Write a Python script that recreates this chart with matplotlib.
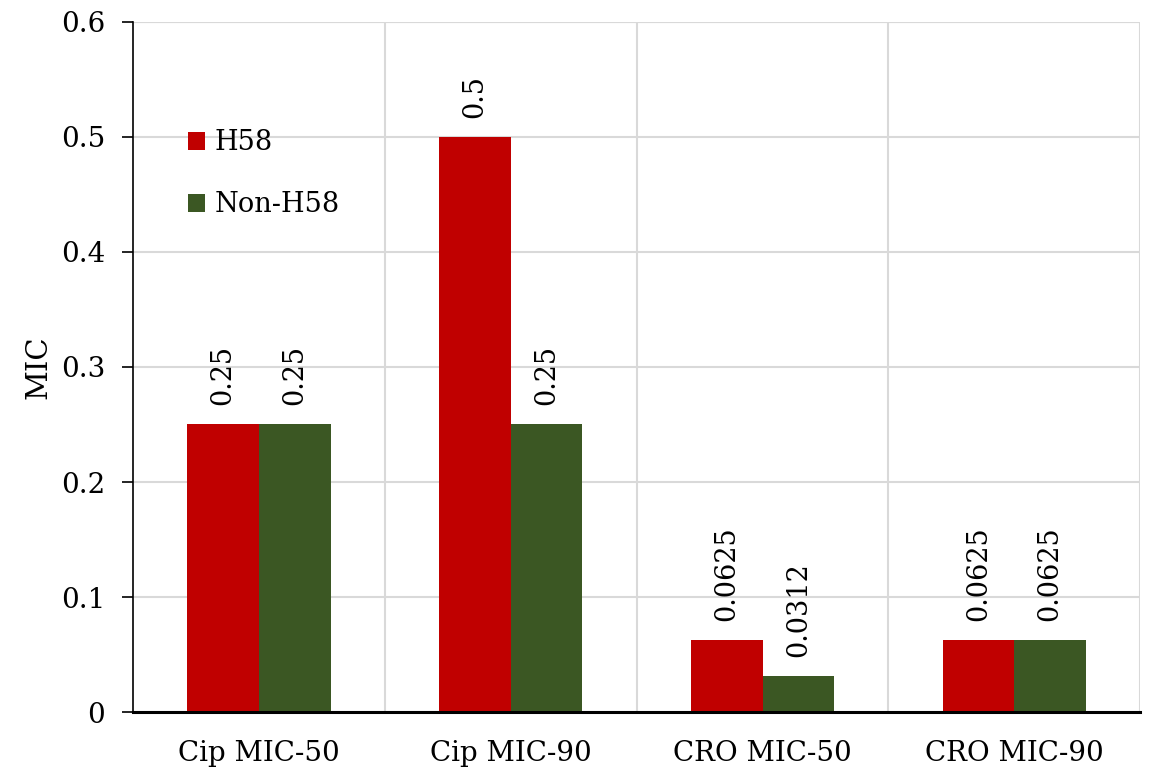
import matplotlib
matplotlib.use("Agg")
import matplotlib.pyplot as plt
import numpy as np

categories = ["Cip MIC-50", "Cip MIC-90", "CRO MIC-50", "CRO MIC-90"]
h58 = [0.25, 0.5, 0.0625, 0.0625]
non_h58 = [0.25, 0.25, 0.0312, 0.0625]
h58_labels = ["0.25", "0.5", "0.0625", "0.0625"]
non_h58_labels = ["0.25", "0.25", "0.0312", "0.0625"]
yticks = [0, 0.1, 0.2, 0.3, 0.4, 0.5, 0.6]
ytick_labels = ["0", "0.1", "0.2", "0.3", "0.4", "0.5", "0.6"]

red = "#C00000"
green = "#3B5723"
serif = ["DejaVu Serif"]

fig = plt.figure(figsize=(11.51, 7.71), dpi=100)
ax = fig.add_axes([0.1156, 0.0765, 0.875, 0.895])

x = np.arange(len(categories))
w = 0.285
b1 = ax.bar(x - w / 2, h58, w, color=red, label="H58", zorder=3)
b2 = ax.bar(x + w / 2, non_h58, w, color=green, label="Non-H58", zorder=3)

for bars, labels in ((b1, h58_labels), (b2, non_h58_labels)):
    for bar, lab in zip(bars, labels):
        ax.annotate(lab, (bar.get_x() + bar.get_width() / 2, bar.get_height()),
                    xytext=(0, 14), textcoords="offset points",
                    rotation=90, ha="center", va="bottom",
                    fontsize=19.5, family=serif, zorder=4)

ax.set_xlim(-0.5, len(categories) - 0.5)
ax.set_ylim(0, 0.6)
ax.set_yticks(yticks)
ax.set_yticklabels(ytick_labels, family=serif, fontsize=20)
ax.set_xticks(x)
ax.set_xticklabels(categories, family=serif, fontsize=20)
ax.tick_params(axis="x", length=0, pad=20)
ax.tick_params(axis="y", length=8, width=1.2, direction="out", pad=12)

# horizontal gridlines plus category separators
ax.yaxis.grid(True, color="#d9d9d9", linewidth=1.5, zorder=0)
for sep in np.arange(0.5, len(categories) - 0.5, 1.0):
    ax.axvline(sep, color="#d9d9d9", linewidth=1.5, zorder=0)
ax.axvline(len(categories) - 0.5, color="#d9d9d9", linewidth=1.5, zorder=0)
ax.axhline(0.6, color="#d9d9d9", linewidth=1.5, zorder=0)

for s in ("top", "right"):
    ax.spines[s].set_visible(False)
ax.spines["left"].set_linewidth(1.2)
ax.spines["bottom"].set_linewidth(2.2)
ax.spines["bottom"].set_zorder(5)

ax.set_ylabel("MIC", family=serif, fontsize=21)
ax.yaxis.set_label_coords(-0.08, 0.5)

leg = ax.legend(loc="upper left", bbox_to_anchor=(0.03, 0.88), frameon=False,
                prop={"family": serif, "size": 19.5}, handlelength=0.65,
                handleheight=0.65, handletextpad=0.35, labelspacing=1.3)

fig.savefig("out.png", dpi=100)
